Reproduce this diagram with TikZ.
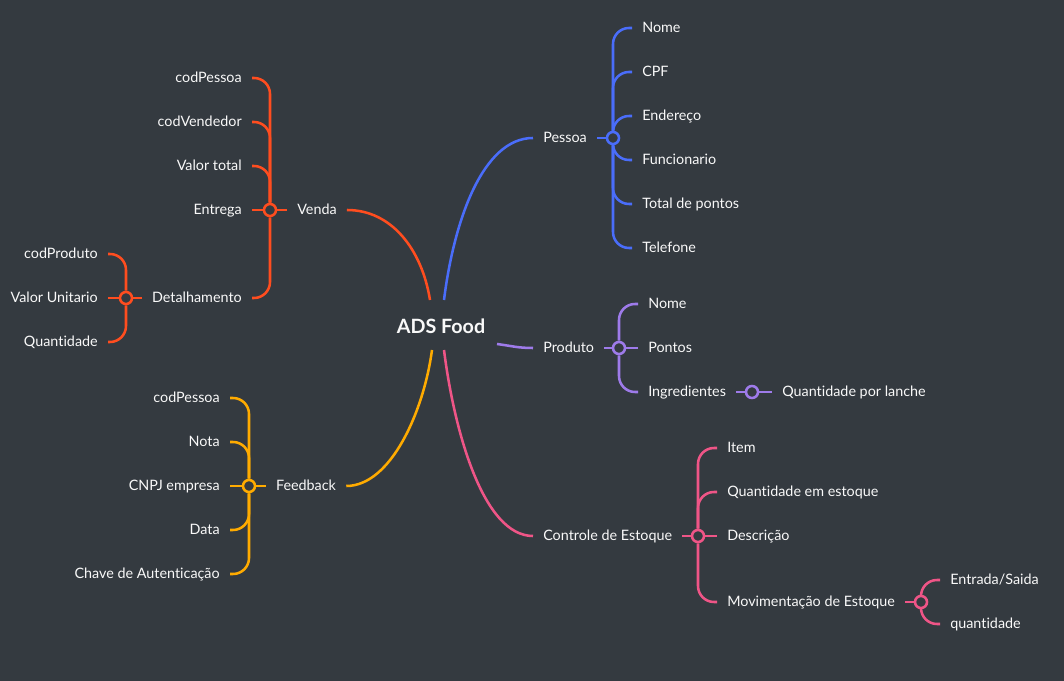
\documentclass[tikz,border=0pt]{standalone}
\usepackage{fontspec}
\setmainfont{Lato}[Ligatures=NoCommon]
\usepackage{tikz}
\definecolor{bgdark}{HTML}{343A40}
\definecolor{vendac}{HTML}{FF4D1F}
\definecolor{pessoac}{HTML}{4A6DFA}
\definecolor{produtoc}{HTML}{9E7BEA}
\definecolor{estoquec}{HTML}{EF5587}
\definecolor{feedc}{HTML}{FFAB00}

\begin{document}
\begin{tikzpicture}[x=0.025cm, y=-0.025cm,
                   every node/.style={font=\fontsize{10.2}{12}\selectfont, text=white!95!gray},
                   txt/.style={inner xsep=0.25cm, inner ysep=0pt, text height=7.6pt, text depth=1.4pt},
                   lft/.style={txt, anchor=east},
                   rgt/.style={txt, anchor=west},
                   hub/.style={circle, draw=#1, fill=bgdark, line width=1.8pt,
                               minimum size=0.3cm, inner sep=0pt},
                   link/.style={line width=1.8pt, rounded corners=0.4cm},
                   branch/.style={line width=1.8pt}]
    \fill[bgdark] (0,0) rectangle (1064,681);
    \useasboundingbox (0,0) rectangle (1064,681);

    % centre
    \node[font=\bfseries\fontsize{14}{16}\selectfont, minimum height=1.25cm] (root) at (441,326) {ADS Food};

    % Venda
    \node[txt] (venda) at (317,210) {Venda};
    \node[hub=vendac] (hV) at (270,210) {};
    \node[lft] (vcod)  at (252,78)  {codPessoa};
    \node[lft] (vvend) at (252,122) {codVendedor};
    \node[lft] (vtot)  at (252,166) {Valor total};
    \node[lft] (vent)  at (252,210) {Entrega};
    \node[lft] (vdet)  at (252,298) {Detalhamento};
    \node[hub=vendac] (hD) at (126,298) {};
    \node[lft] (dprod) at (108,254) {codProduto};
    \node[lft] (dunit) at (108,298) {Valor Unitario};
    \node[lft] (dqtd)  at (108,342) {Quantidade};

    % Feedback
    \node[txt] (feed) at (306,486) {Feedback};
    \node[hub=feedc] (hF) at (249,486) {};
    \node[lft] (fcod)  at (230,398) {codPessoa};
    \node[lft] (fnota) at (230,442) {Nota};
    \node[lft] (fcnpj) at (230,486) {CNPJ empresa};
    \node[lft] (fdata) at (230,530) {Data};
    \node[lft] (fchav) at (230,574) {Chave de Autenticação};

    % Pessoa
    \node[rgt] (pessoa) at (533,138) {Pessoa};
    \node[hub=pessoac] (hP) at (613,138) {};
    \node[rgt] (pnome) at (632,28)  {Nome};
    \node[rgt] (pcpf)  at (632,72)  {CPF};
    \node[rgt] (pend)  at (632,116) {Endereço};
    \node[rgt] (pfunc) at (632,160) {Funcionario};
    \node[rgt] (ppont) at (632,204) {Total de pontos};
    \node[rgt] (ptel)  at (632,248) {Telefone};

    % Produto
    \node[rgt] (produto) at (533,348) {Produto};
    \node[hub=produtoc] (hR) at (619,348) {};
    \node[rgt] (rnome) at (638,304) {Nome};
    \node[rgt] (rpont) at (638,348) {Pontos};
    \node[rgt] (ring)  at (638,392) {Ingredientes};
    \node[hub=produtoc] (hI) at (752,392) {};
    \node[rgt] (iqtd)  at (772,392) {Quantidade por lanche};

    % Controle de Estoque
    \node[rgt] (estoque) at (533,536) {Controle de Estoque};
    \node[hub=estoquec] (hE) at (698,536) {};
    \node[rgt] (eitem) at (717,448) {Item};
    \node[rgt] (eqtd)  at (717,492) {Quantidade em estoque};
    \node[rgt] (edesc) at (717,536) {Descrição};
    \node[rgt] (emov)  at (717,602) {Movimentação de Estoque};
    \node[hub=estoquec] (hM) at (921,602) {};
    \node[rgt] (ment)  at (940,580) {Entrada/Saida};
    \node[rgt] (mqtd)  at (940,624) {quantidade};

    % branches from the centre
    \draw[branch, vendac] ([shift={(-11,-26)}]root.center) .. controls +(-8,-50) and +(45,0) .. (venda.east);
    \draw[branch, pessoac] ([shift={(3,-26)}]root.center) .. controls +(10,-80) and +(-50,0) .. (pessoa.west);
    \draw[branch, produtoc] ([shift={(56,18)}]root.center) .. controls +(15,2) and +(-15,0) .. (produto.west);
    \draw[branch, estoquec] ([shift={(3,24)}]root.center) .. controls +(10,80) and +(-50,0) .. (estoque.west);
    \draw[branch, feedc] ([shift={(-9,24)}]root.center) .. controls +(-8,60) and +(45,0) .. (feed.east);

    % Venda links
    \draw[branch, vendac] (venda) -- (hV);
    \draw[link, vendac] (hV) |- (vcod.east);
    \draw[link, vendac] (hV) |- (vvend.east);
    \draw[link, vendac] (hV) |- (vtot.east);
    \draw[branch, vendac] (hV) -- (vent.east);
    \draw[link, vendac] (hV) |- (vdet.east);
    \draw[branch, vendac] (vdet) -- (hD);
    \draw[link, vendac] (hD) |- (dprod.east);
    \draw[branch, vendac] (hD) -- (dunit.east);
    \draw[link, vendac] (hD) |- (dqtd.east);

    % Feedback links
    \draw[branch, feedc] (feed) -- (hF);
    \draw[link, feedc] (hF) |- (fcod.east);
    \draw[link, feedc] (hF) |- (fnota.east);
    \draw[branch, feedc] (hF) -- (fcnpj.east);
    \draw[link, feedc] (hF) |- (fdata.east);
    \draw[link, feedc] (hF) |- (fchav.east);

    % Pessoa links
    \draw[branch, pessoac] (pessoa) -- (hP);
    \foreach \leaf in {pnome,pcpf,pend,pfunc,ppont,ptel}
        \draw[link, pessoac] (hP) |- (\leaf.west);

    % Produto links
    \draw[branch, produtoc] (produto) -- (hR);
    \draw[link, produtoc] (hR) |- (rnome.west);
    \draw[branch, produtoc] (hR) -- (rpont.west);
    \draw[link, produtoc] (hR) |- (ring.west);
    \draw[branch, produtoc] (ring) -- (hI);
    \draw[branch, produtoc] (hI) -- (iqtd.west);

    % Estoque links
    \draw[branch, estoquec] (estoque) -- (hE);
    \draw[link, estoquec] (hE) |- (eitem.west);
    \draw[link, estoquec] (hE) |- (eqtd.west);
    \draw[branch, estoquec] (hE) -- (edesc.west);
    \draw[link, estoquec] (hE) |- (emov.west);
    \draw[branch, estoquec] (emov) -- (hM);
    \draw[link, estoquec] (hM) |- (ment.west);
    \draw[link, estoquec] (hM) |- (mqtd.west);
\end{tikzpicture}
\end{document}
